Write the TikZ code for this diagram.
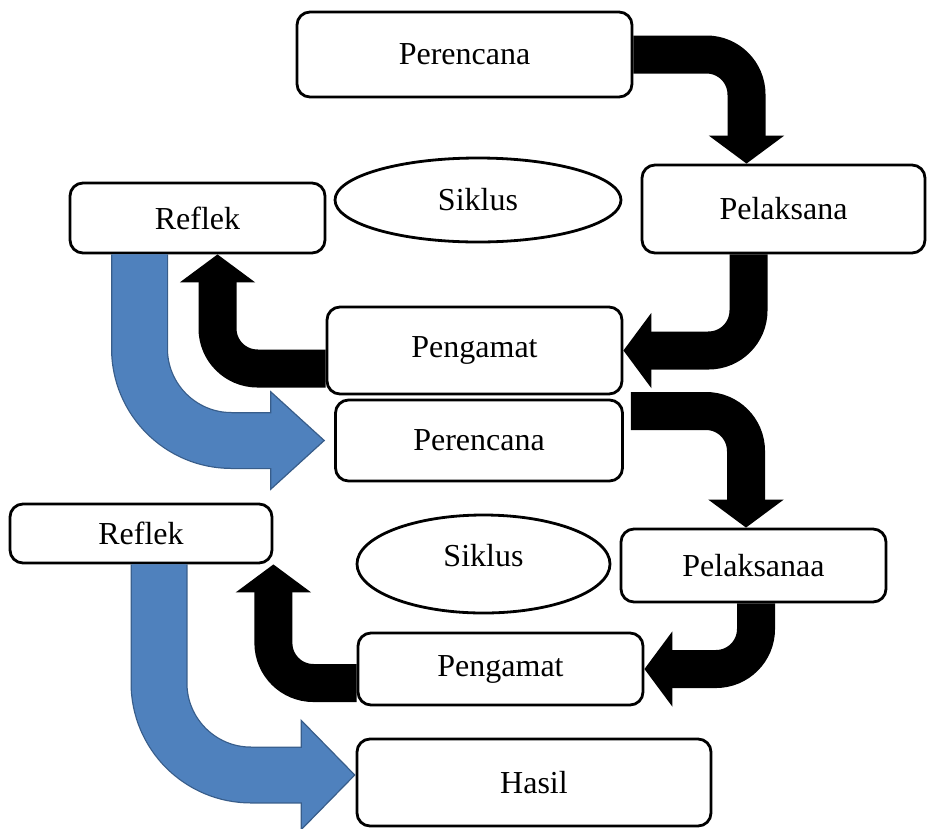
\documentclass[tikz,border=0pt]{standalone}
\usepackage{fontspec}
\setmainfont{Liberation Serif}
\usetikzlibrary{arrows.meta,shapes.geometric}
\definecolor{fillblue}{HTML}{4F81BD}
\definecolor{edgeblue}{HTML}{385D8A}

\begin{document}
\begin{tikzpicture}[x=1pt, y=-1pt,
		box/.style={draw, line width=2.8pt, rounded corners=13pt, fill=white, inner sep=0pt, font=\fontsize{32}{38}\selectfont},
		oval/.style={draw, ellipse, line width=2.8pt, fill=white, inner sep=0pt, font=\fontsize{32}{38}\selectfont},
		flow/.style={line width=38pt, rounded corners=40pt, -{Triangle[length=28pt, width=74pt]}},
		backflow/.style={line width=57pt, edgeblue, rounded corners=92pt, -{Triangle[length=55pt, width=#1, line width=1.2pt, fill=fillblue]}},
		backfill/.style={line width=54.5pt, fillblue, rounded corners=92pt, shorten >=50pt}
	]
		\useasboundingbox (0, 0) rectangle (928, 828);
		% boxes
		\node [box, minimum width=335pt, minimum height=85pt] (per1) at (464.5, 54.5) {Perencana};
		\node [box, minimum width=283pt, minimum height=88pt] (pel1) at (783.5, 209) {Pelaksana};
		\node [oval, minimum width=286pt, minimum height=84pt] (sik1) at (478, 200) {Siklus};
		\node [box, minimum width=255pt, minimum height=70pt] (ref1) at (197.5, 218) {Reflek};
		\node [box, minimum width=295pt, minimum height=87pt] (pen1) at (474.5, 350.5) {Pengamat};
		\node [box, minimum width=287pt, minimum height=81pt] (per2) at (479, 440.5) {Perencana};
		\node [box, minimum width=262pt, minimum height=59pt] (ref2) at (141, 533.5) {Reflek};
		\node [oval, minimum width=253pt, minimum height=98pt, text depth=18pt] (sik2) at (483.5, 564) {Siklus};
		\node [box, minimum width=265pt, minimum height=73pt] (pel2) at (753.5, 565.5) {Pelaksanaa};
		\node [box, minimum width=285pt, minimum height=72pt] (pen2) at (500.5, 669) {Pengamat};
		\node [box, minimum width=354pt, minimum height=87pt] (has) at (534, 782.5) {Hasil};
		% blue arrows
		\draw [backflow=100pt] ([xshift=-58pt]ref1.south) |- ([xshift=-9pt]per2.west);
		\draw [backfill] ([xshift=-58pt]ref1.south) |- ([xshift=-9pt]per2.west);
		\draw [backflow=112pt] ([xshift=18pt]ref2.south) |- ([yshift=7.5pt]has.west);
		\draw [backfill] ([xshift=18pt]ref2.south) |- ([yshift=7.5pt]has.west);
		% black arrows
		\draw [flow] (per1.east) -| ([xshift=-37pt]pel1.north);
		\draw [flow] ([xshift=-35pt]pel1.south) |- (pen1.east);
		\draw [flow] ([yshift=-18pt]pen1.west) -| ([xshift=20pt]ref1.south);
		\draw [flow] ([xshift=7pt, yshift=29.5pt]per2.east) -| ([xshift=-7.5pt]pel2.north);
		\draw [flow] ([xshift=2.5pt]pel2.south) |- (pen2.east);
		\draw [flow] ([yshift=-14pt]pen2.west) -| (ref2.south east);
	\end{tikzpicture}
\end{document}
